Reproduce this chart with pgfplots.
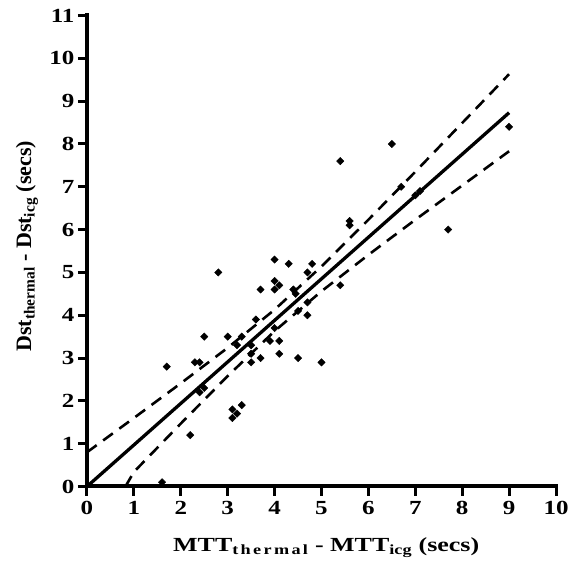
\documentclass[border=0pt]{standalone}
\usepackage{fontspec}
\setmainfont{Liberation Serif}
\newfontfamily\widefont[FakeStretch=1.25]{Liberation Serif}
\newfontfamily\xlabfont[FakeStretch=1.3]{Liberation Serif}
\usepackage{pgfplots}
\pgfplotsset{compat=1.18}
\begin{document}
\begin{tikzpicture}
  \begin{axis}[
      scale only axis,
      width=469pt, height=471pt,
      xmin=0, xmax=10, ymin=0, ymax=11,
      axis lines=left,
      axis line style={-, line width=4pt, line cap=rect},
      xtick={0,...,10}, ytick={0,...,11},
      tick align=outside,
      major tick length=9pt,
      every tick/.style={black, line width=3pt},
      /pgf/number format/assume math mode=true,
      ticklabel style={font=\widefont\fontsize{20}{20}\selectfont\bfseries},
      xticklabel style={yshift=-2pt},
      xlabel={MTT\textsubscript{t\,h\,e\,r\,m\,a\,l} - MTT\textsubscript{icg} (secs)},
      ylabel={Dst\textsubscript{thermal} - Dst\textsubscript{icg} (secs)},
      xlabel style={font=\xlabfont\fontsize{20}{20}\selectfont\bfseries,
        at={(axis description cs:0.51,-0.13)}, anchor=center},
      ylabel style={font=\fontsize{22}{22}\selectfont\bfseries,
        at={(axis description cs:-0.128,0.51)}, anchor=center},
      clip=false,
    ]
    % regression line and 95% band
    \addplot[black, line width=3.3pt] coordinates {(0,0)(9,8.73)};
    \addplot[black, line width=2.6pt, dash pattern=on 12pt off 8pt] coordinates {
      (0,0.80)(1,1.60)(2,2.41)(3,3.24)(4,4.13)(5,5.14)(6,6.23)(7,7.35)(8,8.49)(9,9.63)};
    \addplot[black, line width=2.6pt, dash pattern=on 12pt off 8pt] coordinates {
      (0.82,0)(1,0.34)(2,1.47)(3,2.58)(4,3.63)(5,4.56)(6,5.41)(7,6.23)(8,7.03)(9,7.83)};
    % data
    \addplot[only marks, mark=square*, mark size=2.6pt, mark options={rotate=45, fill=black, draw=black}] coordinates {
      (1.6,0.1)(1.7,2.8)(2.2,1.2)(2.3,2.9)(2.4,2.9)(2.4,2.2)(2.5,2.3)(2.5,3.5)
      (2.8,5.0)(3.0,3.5)(3.1,1.6)(3.2,1.7)(3.1,1.8)(3.3,1.9)(3.2,3.3)(3.3,3.5)
      (3.5,3.3)(3.5,3.1)(3.5,2.9)(3.6,3.9)(3.7,3.0)(3.7,4.6)(3.9,3.4)(4.0,3.7)
      (4.1,3.4)(4.1,3.1)(4.0,4.8)(4.1,4.7)(4.0,4.6)(4.0,5.3)(4.3,5.2)(4.4,4.6)
      (4.45,4.5)(4.5,3.0)(4.5,4.1)(4.7,4.0)(4.7,4.3)(4.7,5.0)(4.8,5.2)(5.0,2.9)
      (5.4,4.7)(5.4,7.6)(5.6,6.2)(5.6,6.1)(6.5,8.0)(6.7,7.0)(7.0,6.8)(7.1,6.9)
      (7.7,6.0)(9.0,8.4)};
  \end{axis}
  \pgfresetboundingbox
  \path[use as bounding box] (-87pt,-81.5pt) rectangle (484pt,486.5pt);
\end{tikzpicture}
\end{document}
